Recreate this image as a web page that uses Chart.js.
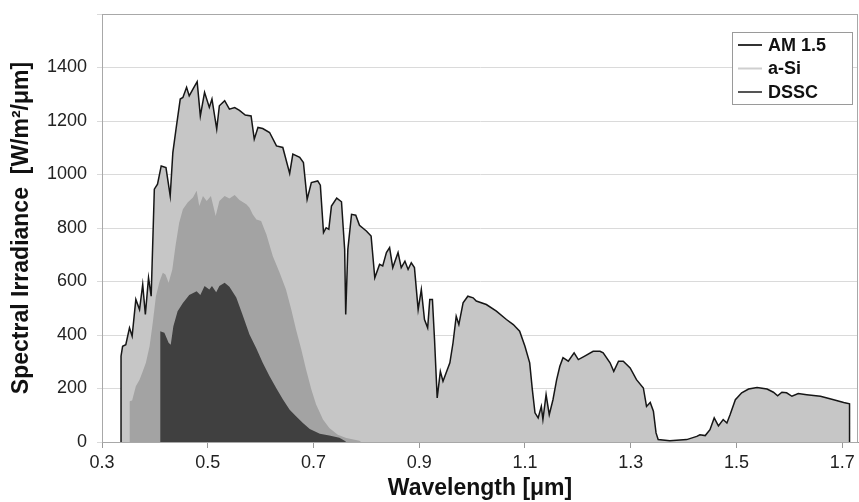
<!DOCTYPE html>
<html>
<head>
<meta charset="utf-8">
<script src="https://cdn.jsdelivr.net/npm/chart.js@4.4.0/dist/chart.umd.min.js"></script>
<style>
  body { margin: 0; background: #fff; }
  #wrap { width: 859px; height: 502px; }
</style>
</head>
<body>
<div id="wrap"><canvas id="irradianceChart"></canvas></div>
<script>
// AM 1.5 (longitud de onda en um, irradiancia en W/m2/um)
const am15Wl = [0.336, 0.336, 0.339, 0.345, 0.352, 0.357, 0.364, 0.371, 0.377, 0.382, 0.388, 0.393, 0.399, 0.405, 0.412,
  0.421, 0.429, 0.434, 0.440, 0.448, 0.453, 0.460, 0.465, 0.472, 0.480, 0.486, 0.494, 0.503, 0.508, 0.517, 0.522,
  0.532, 0.541, 0.551, 0.560, 0.571, 0.582, 0.588, 0.595, 0.604, 0.617, 0.630, 0.642, 0.655, 0.661, 0.674, 0.681,
  0.688, 0.696, 0.708, 0.713, 0.719, 0.724, 0.729, 0.734, 0.744, 0.753, 0.759, 0.761, 0.765, 0.772, 0.780, 0.787,
  0.800, 0.809, 0.816, 0.825, 0.831, 0.838, 0.844, 0.850, 0.860, 0.866, 0.873, 0.879, 0.885, 0.891, 0.898, 0.904,
  0.910, 0.916, 0.920, 0.925, 0.929, 0.934, 0.940, 0.945, 0.958, 0.964, 0.970, 0.975, 0.983, 0.992, 1.002, 1.008,
  1.027, 1.046, 1.065, 1.078, 1.090, 1.100, 1.109, 1.114, 1.119, 1.125, 1.131, 1.134, 1.140, 1.146, 1.153, 1.160,
  1.166, 1.172, 1.182, 1.193, 1.201, 1.213, 1.229, 1.242, 1.248, 1.261, 1.268, 1.277, 1.286, 1.299, 1.311, 1.324,
  1.330, 1.337, 1.343, 1.348, 1.352, 1.374, 1.406, 1.425, 1.431, 1.441, 1.450, 1.458, 1.466, 1.475, 1.482, 1.488,
  1.498, 1.504, 1.510, 1.523, 1.539, 1.558, 1.570, 1.578, 1.586, 1.595, 1.605, 1.617, 1.633, 1.659, 1.684, 1.703,
  1.714, 1.714];
const am15Irr = [0, 321, 358, 364, 427, 396, 533, 495, 589, 477, 614, 545, 945, 964, 1032,
  1026, 920, 1082, 1170, 1282, 1288, 1326, 1294, 1319, 1347, 1219, 1307, 1251, 1282, 1170, 1257,
  1276, 1244, 1250, 1240, 1222, 1219, 1132, 1176, 1172, 1157, 1107, 1101, 1004, 1076, 1064, 1045,
  907, 970, 976, 960, 783, 801, 795, 882, 912, 898, 720, 477, 720, 851, 848, 810,
  789, 770, 614, 664, 658, 708, 727, 652, 708, 652, 676, 645, 670, 652, 495, 570,
  458, 427, 533, 533, 383, 165, 264, 227, 296, 371, 470, 439, 520, 545, 539, 527,
  514, 489, 458, 439, 414, 358, 296, 196, 109, 90, 133, 84, 177, 102, 158, 233,
  283, 315, 302, 333, 308, 321, 339, 339, 333, 296, 264, 302, 302, 277, 233, 202,
  133, 148, 115, 34, 9, 5, 9, 21, 27, 24, 46, 90, 60, 84, 71, 102,
  158, 171, 184, 198, 204, 198, 186, 173, 186, 184, 171, 181, 177, 171, 158, 148,
  143, 0];

// a-Si
const asiWl = [0.352, 0.352, 0.357, 0.364, 0.371, 0.377, 0.383, 0.390, 0.396, 0.402, 0.409, 0.415, 0.420, 0.426,
  0.433, 0.439, 0.446, 0.453, 0.462, 0.472, 0.479, 0.484, 0.491, 0.498, 0.506, 0.515, 0.522, 0.532, 0.541, 0.551,
  0.560, 0.573, 0.579, 0.585, 0.592, 0.601, 0.607, 0.611, 0.623, 0.636, 0.648, 0.658, 0.667, 0.677, 0.686, 0.696,
  0.705, 0.718, 0.730, 0.746, 0.762, 0.787, 0.790];
const asiIrr = [0, 152, 155, 208, 233, 264, 296, 358, 446, 545, 601, 633, 626, 595,
  645, 733, 820, 870, 895, 914, 939, 882, 920, 901, 920, 845, 901, 920, 910, 923,
  905, 889, 876, 851, 832, 826, 795, 776, 695, 633, 570, 495, 421, 346, 271, 196,
  140, 84, 52, 27, 15, 5, 0];

// DSSC
const dsscWl = [0.410, 0.410, 0.418, 0.426, 0.430, 0.435, 0.443, 0.453, 0.465, 0.479, 0.486, 0.494, 0.503, 0.508,
  0.516, 0.522, 0.532, 0.541, 0.554, 0.566, 0.579, 0.592, 0.604, 0.617, 0.630, 0.642, 0.655, 0.667, 0.680, 0.693,
  0.712, 0.730, 0.749, 0.759, 0.762];
const dsscIrr = [0, 414, 408, 371, 364, 433, 489, 520, 550, 564, 550, 583, 570, 583,
  560, 583, 595, 580, 540, 475, 402, 350, 296, 246, 200, 160, 121, 96, 71, 49,
  31, 24, 16, 5, 0];

const seriesLabels = ['AM 1.5', 'a-Si', 'DSSC'];
const xTicks = [0.3, 0.5, 0.7, 0.9, 1.1, 1.3, 1.5, 1.7];
const yTicks = [0, 200, 400, 600, 800, 1000, 1200, 1400];

const toPoints = (xs, ys) => xs.map((x, i) => ({ x: x, y: ys[i] }));

// leyenda con marco dentro del area del grafico
const boxLegend = {
  id: 'boxLegend',
  afterDraw(chart) {
    const ctx = chart.ctx;
    const a = chart.chartArea;
    const x0 = a.right - 126, y0 = a.top + 18;
    ctx.save();
    ctx.fillStyle = '#fff';
    ctx.fillRect(x0, y0, 120, 72);
    ctx.strokeStyle = '#9a9a9a';
    ctx.lineWidth = 1;
    ctx.strokeRect(x0 + 0.5, y0 + 0.5, 120, 72);
    ctx.font = 'bold 18px "Liberation Sans", Arial, sans-serif';
    ctx.textBaseline = 'middle';
    chart.data.datasets.forEach((ds, i) => {
      const y = y0 + 13 + i * 23.5;
      ctx.strokeStyle = ds.legendColor;
      ctx.lineWidth = 2;
      ctx.beginPath();
      ctx.moveTo(x0 + 6, y);
      ctx.lineTo(x0 + 30, y);
      ctx.stroke();
      ctx.fillStyle = '#111';
      ctx.fillText(ds.label, x0 + 36, y + 1);
    });
    ctx.restore();
  }
};

// marco gris alrededor del area
const frame = {
  id: 'frame',
  afterDatasetsDraw(chart) {
    const ctx = chart.ctx;
    const a = chart.chartArea;
    ctx.save();
    ctx.strokeStyle = '#a8a8a8';
    ctx.lineWidth = 1;
    ctx.strokeRect(a.left + 0.5, a.top + 0.5, a.right - a.left - 1, a.bottom - a.top);
    ctx.restore();
  }
};

const tickFont = { family: '"Liberation Sans", Arial, sans-serif', size: 18 };
const titleFont = { family: '"Liberation Sans", Arial, sans-serif', size: 23, weight: 'bold' };

const ctx = document.getElementById('irradianceChart').getContext('2d');
new Chart(ctx, {
  type: 'line',
  data: {
    datasets: [
      {
        label: seriesLabels[0],
        data: toPoints(am15Wl, am15Irr),
        borderColor: '#161616',
        backgroundColor: '#c6c6c6',
        borderWidth: 1.5,
        fill: 'origin',
        order: 3,
        legendColor: '#333'
      },
      {
        label: seriesLabels[1],
        data: toPoints(asiWl, asiIrr),
        borderColor: 'rgba(0,0,0,0)',
        backgroundColor: '#a3a3a3',
        borderWidth: 0,
        fill: 'origin',
        order: 2,
        legendColor: '#cfcfcf'
      },
      {
        label: seriesLabels[2],
        data: toPoints(dsscWl, dsscIrr),
        borderColor: 'rgba(0,0,0,0)',
        backgroundColor: '#404040',
        borderWidth: 0,
        fill: 'origin',
        order: 1,
        legendColor: '#555'
      }
    ]
  },
  options: {
    responsive: true,
    maintainAspectRatio: false,
    animation: false,
    layout: { padding: { top: 14, right: 1, left: 0, bottom: 0 } },
    elements: { point: { radius: 0 }, line: { tension: 0 } },
    plugins: {
      legend: { display: false },
      tooltip: { enabled: false }
    },
    scales: {
      x: {
        type: 'linear',
        min: 0.3,
        max: 1.73,
        afterBuildTicks: scale => { scale.ticks = xTicks.map(v => ({ value: v })); },
        afterFit: scale => { scale.height = 60; },
        ticks: {
          font: tickFont,
          color: '#222',
          padding: 4,
          maxRotation: 0,
          callback: v => Number(v).toFixed(1)
        },
        grid: { drawOnChartArea: false, tickLength: 6, color: '#999' },
        border: { color: '#999' },
        title: { display: true, text: 'Wavelength [μm]', font: titleFont, color: '#111', padding: { top: 0, bottom: 0 } }
      },
      y: {
        min: 0,
        max: 1600,
        afterBuildTicks: scale => { scale.ticks = yTicks.concat([1600]).map(v => ({ value: v })); },
        afterFit: scale => {
          scale.width = 102;
          scale.paddingTop = 0;
          scale.paddingBottom = 0;
        },
        ticks: {
          font: tickFont,
          color: '#222',
          padding: 10,
          callback: v => (v >= 1600 ? '' : v)
        },
        grid: { color: '#dadada', tickLength: 5 },
        border: { color: '#999' },
        title: { display: true, text: 'Spectral Irradiance  [W/m²/μm]', font: titleFont, color: '#111', padding: { top: 8, bottom: 0 } }
      }
    }
  },
  plugins: [frame, boxLegend]
});
</script>
</body>
</html>
